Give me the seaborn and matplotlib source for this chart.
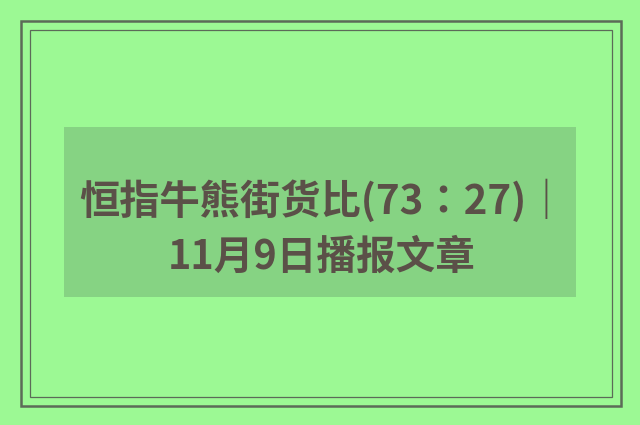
import matplotlib
matplotlib.use("Agg")
import matplotlib.pyplot as plt
from matplotlib.patches import Rectangle
import seaborn as sns

# ── Card text ──
title_lines = ["恒指牛熊街货比(73：27)｜", "11月9日播报文章"]

bg_color = "#9cf994"
box_color = "#86d383"
text_color = "#5b5048"
border_color = "#5c6b58"

sns.set_style("white")
plt.rcParams['font.family'] = ['Noto Sans CJK TC', 'DejaVu Sans']

fig = plt.figure(figsize=(6.4, 4.25), dpi=100)
fig.patch.set_facecolor(bg_color)
ax = fig.add_axes([0, 0, 1, 1])
ax.set_xlim(0, 640)
ax.set_ylim(425, 0)
ax.set_facecolor(bg_color)
ax.axis("off")

# double frame
ax.add_patch(Rectangle((21, 21), 600, 385, fill=False, ec=border_color, lw=1.8))
ax.add_patch(Rectangle((29.5, 29.5), 582, 367, fill=False, ec=border_color, lw=0.9))

# darker text box
ax.add_patch(Rectangle((64, 127), 512, 170, fc=box_color, ec="none"))

ax.text(323, 201, title_lines[0], ha="center", va="center",
        fontsize=29, fontweight="black", color=text_color)
ax.text(322, 257, title_lines[1], ha="center", va="center",
        fontsize=28.5, fontweight="black", color=text_color)

fig.savefig("out.png", dpi=100, facecolor=bg_color)
